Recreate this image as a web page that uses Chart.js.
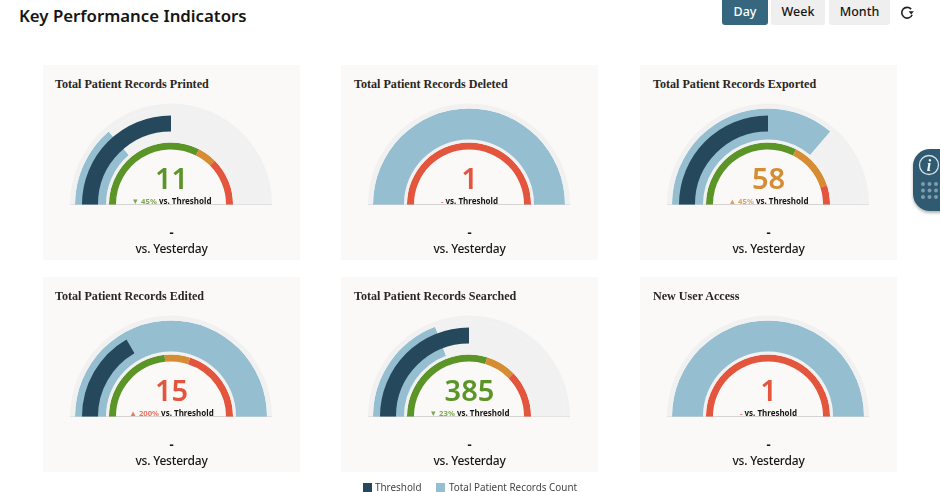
<!DOCTYPE html>
<html>
<head>
<meta charset="utf-8">
<title>Key Performance Indicators</title>
<script src="https://cdn.jsdelivr.net/npm/chart.js@4/dist/chart.umd.min.js"></script>
<style>
html, body { margin: 0; padding: 0; background: #fff; overflow: hidden; }
body { width: 940px; height: 492px; position: relative; font-family: "Noto Sans", sans-serif; color: #161513; }
h1 { position: absolute; left: 19px; top: 4px; margin: 0; font-size: 16.8px; line-height: 24px; font-weight: 600; }
.btn { position: absolute; top: 0; height: 25px; line-height: 24px; text-align: center; font-size: 12.5px; font-weight: 500; background: #efefef; border-radius: 0 0 3px 3px; }
.btn.on { background: #36677f; color: #fff; }
#refresh { position: absolute; left: 899px; top: 5px; }
.card { position: absolute; width: 257px; height: 195px; background: #faf9f7; }
.card h2 { position: absolute; left: 12px; top: 11px; margin: 0; font: bold 12.1px/16px "Liberation Serif", serif; color: #2a2622; white-space: nowrap; }
.card canvas { position: absolute; left: 26px; top: 38px; }
.base { position: absolute; left: 27px; top: 139px; width: 202px; height: 1px; background: #d4d3d2; }
.num { position: absolute; left: 0; width: 257px; top: 93px; text-align: center; font-size: 29px; line-height: 40px; font-weight: 600; }
.sub { position: absolute; left: 0; width: 257px; top: 130px; text-align: center; font-size: 8px; line-height: 12px; font-weight: 700; white-space: nowrap; }
.sub b { font-size: 7.7px; font-weight: 700; opacity: .8; }
.dash { position: absolute; left: 0; width: 257px; top: 159px; text-align: center; font-size: 13px; line-height: 16px; font-weight: 700; }
.yest { position: absolute; left: 0; width: 257px; top: 175px; text-align: center; font-size: 12px; line-height: 18px; font-weight: 500; letter-spacing: -0.2px; }
#legend { position: absolute; top: 480px; left: 0; width: 940px; height: 14px; font-size: 9.9px; line-height: 15px; color: #444; }
#legend i { position: absolute; top: 3px; width: 9px; height: 9px; }
#legend span { position: absolute; white-space: nowrap; }
#widget { position: absolute; left: 913px; top: 149px; width: 50px; height: 62px; border-radius: 17px; background: #2f5a71; box-shadow: 0 2px 3px rgba(0,0,0,.3); }
</style>
</head>
<body>
<h1>Key Performance Indicators</h1>
<div class="btn on" style="left:722px;width:46px">Day</div>
<div class="btn" style="left:771px;width:54px">Week</div>
<div class="btn" style="left:829px;width:61px">Month</div>
<svg id="refresh" width="16" height="16" viewBox="0 0 14 14" fill="none" stroke="#222" stroke-width="1.4">
  <path d="M11.5 8.5A4.7 4.7 0 1 1 10.6 3.6"/><path d="M13 5.5L10.7 8.4L8.4 5.5" fill="#222" stroke="none"/>
</svg>
<div id="cards"></div>
<div id="legend">
  <i style="left:363px;background:#26485c"></i><span style="left:375px">Threshold</span>
  <i style="left:436px;background:#95bfd1"></i><span style="left:449px">Total Patient Records Count</span>
</div>
<div id="widget">
  <svg width="27" height="62" viewBox="0 0 27 62">
    <circle cx="16" cy="16" r="9.5" fill="none" stroke="#d5e0e6" stroke-width="1.3"/>
    <text x="16" y="21.5" text-anchor="middle" font-family="Liberation Serif" font-style="italic" font-weight="bold" font-size="16" fill="#eef3f5">i</text>
    <g fill="#7f9cac">
      <circle cx="10" cy="35" r="2"/><circle cx="16.5" cy="35" r="2"/><circle cx="23" cy="35" r="2"/>
      <circle cx="10" cy="41.5" r="2"/><circle cx="16.5" cy="41.5" r="2"/><circle cx="23" cy="41.5" r="2"/>
      <circle cx="10" cy="48" r="2"/><circle cx="16.5" cy="48" r="2"/><circle cx="23" cy="48" r="2"/>
    </g>
  </svg>
</div>
<script>
var titles = ['Total Patient Records Printed', 'Total Patient Records Deleted', 'Total Patient Records Exported',
    'Total Patient Records Edited', 'Total Patient Records Searched', 'New User Access'];
var values = [11, 1, 58, 15, 385, 1];
var thresholds = [20, 0, 40, 5, 500, 0];
var maxima = [40, 1, 80, 15, 1000, 1];
var greenEnds = [26, 0, 52, 7, 595, 0];
var orangeEnds = [30, 0, 72, 9, 755, 0];
var changes = ['\u25BC 45%', '-', '\u25B2 45%', '\u25B2 200%', '\u25BC 23%', '-'];
var cardX = [43, 341, 640, 43, 341, 640];
var cardY = [65, 65, 65, 277, 277, 277];

var DARK = '#26485c', BLUE = '#95bfd1', TRACK = '#f1f1f2';
var GREEN = '#5b9528', ORANGE = '#d68c32', RED = '#e4553d';

function statusColor(i) {
    if (values[i] <= greenEnds[i]) return GREEN;
    if (values[i] <= orangeEnds[i]) return ORANGE;
    return RED;
}

function ring(data, colors, weight) {
    return { data: data, backgroundColor: colors, borderWidth: 0, weight: weight };
}

function gauge(canvas, datasets) {
    new Chart(canvas, {
        type: 'doughnut',
        data: { datasets: datasets },
        options: {
            responsive: false,
            animation: false,
            rotation: -90,
            circumference: 180,
            radius: 101,
            cutout: '54.5%',
            events: [],
            plugins: { legend: { display: false }, tooltip: { enabled: false } }
        }
    });
}

titles.forEach(function(title, i) {
    var color = statusColor(i);
    var card = document.createElement('div');
    card.className = 'card';
    card.style.left = cardX[i] + 'px';
    card.style.top = cardY[i] + 'px';
    card.innerHTML = '<h2 style="left:' + (i % 3 ? 13 : 12) + 'px">' + title + '</h2><div class="base"></div>' +
        '<canvas width="204" height="102"></canvas><canvas width="204" height="102"></canvas>' +
        '<div class="num" style="color:' + color + '">' + values[i] + '</div>' +
        '<div class="sub"><b style="color:' + color + '">' + changes[i] + '</b> vs. Threshold</div>' +
        '<div class="dash">-</div><div class="yest">vs. Yesterday</div>';
    document.getElementById('cards').appendChild(card);

    var v = values[i], t = thresholds[i], m = maxima[i];
    var canvases = card.querySelectorAll('canvas');
    // count band and status ring underneath
    gauge(canvases[0], [
        ring([m], [TRACK], 5),
        ring([v, m - v], [BLUE, TRACK], 31),
        ring([m], [TRACK], 3),
        ring([greenEnds[i], orangeEnds[i] - greenEnds[i], m - orangeEnds[i]], [GREEN, ORANGE, RED], 7)
    ]);
    // threshold bar on its own layer so the count band has no seams
    gauge(canvases[1], [
        ring([m], ['transparent'], 12),
        ring([t, m - t], [DARK, 'transparent'], 16),
        ring([m], ['transparent'], 18)
    ]);
});
</script>
</body>
</html>
